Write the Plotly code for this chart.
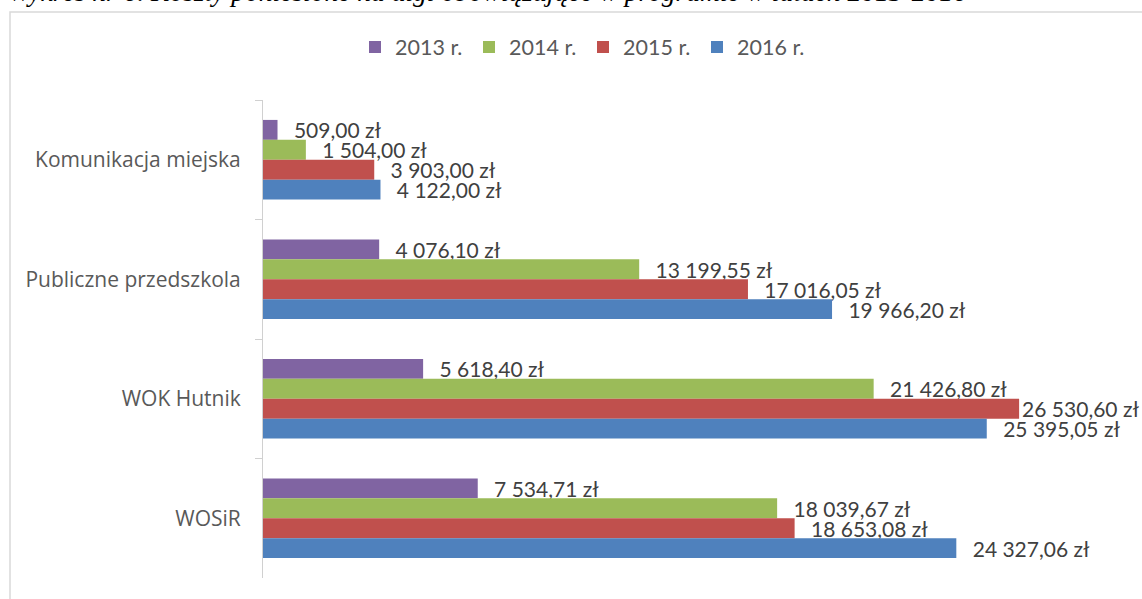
import plotly.graph_objects as go

categories = ["Komunikacja miejska", "Publiczne przedszkola", "WOK Hutnik", "WOSiR"]
years = ["2013 r.", "2014 r.", "2015 r.", "2016 r."]
values_2013 = [509.00, 4076.10, 5618.40, 7534.71]
values_2014 = [1504.00, 13199.55, 21426.80, 18039.67]
values_2015 = [3903.00, 17016.05, 26530.60, 18653.08]
values_2016 = [4122.00, 19966.20, 25395.05, 24327.06]
title_text = "Wykres nr 6. Koszty poniesione na ulgi obowiązujące w programie w latach 2013-2016"

series = [values_2013, values_2014, values_2015, values_2016]
colors = ["#8064A2", "#9BBB59", "#C0504D", "#4F81BD"]
X_MAX = 30000


def pl(v):
    s = f"{v:,.2f}"
    s = s.replace(",", " ").replace(".", ",") + " zł"
    # like Excel: labels near the right edge are pulled close to the bar
    pad = "" if v / X_MAX > 0.87 else "  \u2009"
    return pad + s


W, H = 1142, 599
L, R, T, B = 263, 24, 100, 21

fig = go.Figure()
for name, vals, col in zip(years, series, colors):
    fig.add_trace(go.Bar(
        y=categories, x=vals, name=name, orientation="h",
        marker=dict(color=col, line=dict(width=0)),
        text=[pl(v) for v in vals], textposition="outside",
        textfont=dict(family="Lato, 'Open Sans', sans-serif", size=21, color="#404040"),
        constraintext="none", cliponaxis=False,
    ))

pw = W - L - R
ph = H - T - B


def px_x(p):
    return (p - L) / pw


def px_y(p):
    return (H - B - p) / ph


fig.update_layout(
    width=W, height=H,
    margin=dict(l=L, r=R, t=T, b=B),
    paper_bgcolor="white", plot_bgcolor="white",
    barmode="group", bargap=1/3, bargroupgap=0,
    font=dict(family="Lato, 'Open Sans', sans-serif", size=18, color="#595959"),
    legend=dict(orientation="h", x=px_x(W / 2 + 12), xanchor="center",
                y=px_y(47), yanchor="middle", font=dict(size=21.5, color="#595959"),
                traceorder="normal", itemwidth=30, entrywidth=69, entrywidthmode="pixels"),
    showlegend=True,
    xaxis=dict(range=[0, X_MAX], visible=False, showgrid=False, zeroline=False),
    yaxis=dict(autorange="reversed", type="category", showline=True, linecolor="#D0D0D0", linewidth=1,
               ticks="outside", tickson="boundaries", ticklen=7, tickcolor="#D0D0D0",
               ticklabelstandoff=17,
               tickfont=dict(family="'Open Sans', sans-serif", size=21, color="#595959"), showgrid=False),
    shapes=[dict(type="rect", xref="paper", yref="paper",
                 x0=px_x(10), x1=px_x(1160), y0=px_y(620), y1=px_y(12),
                 line=dict(color="#D9D9D9", width=1.5), fillcolor="rgba(0,0,0,0)", layer="below")],
    annotations=[dict(text="<i>" + title_text + "</i>", xref="paper", yref="paper",
                      x=px_x(6), xanchor="left", y=px_y(9), yanchor="bottom", showarrow=False,
                      font=dict(family="Liberation Serif, serif", size=27.5, color="#000000"))],
)

fig.write_html("out.html")
